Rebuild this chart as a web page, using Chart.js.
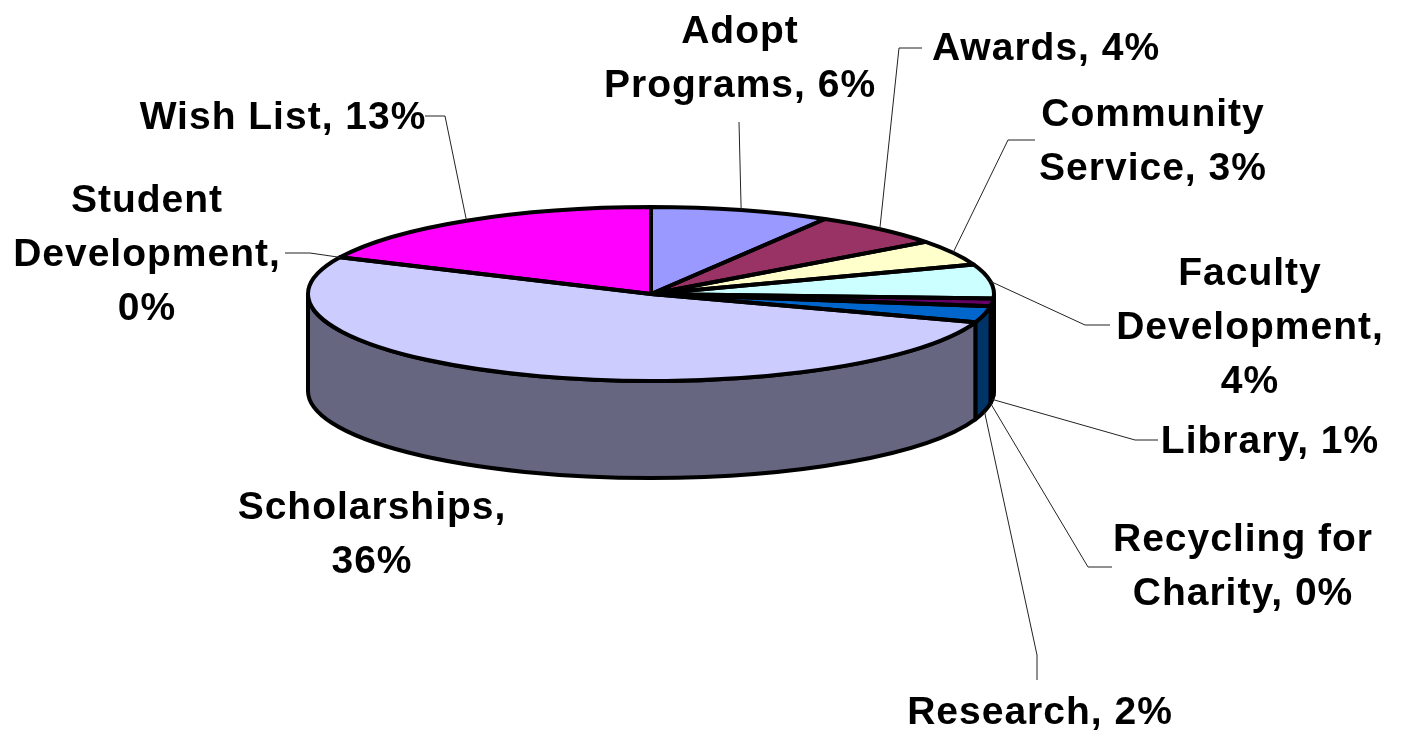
<!DOCTYPE html>
<html>
<head>
<meta charset="utf-8">
<style>
  html, body { margin: 0; background: #fff; }
  canvas { display: block; }
</style>
<script src="https://cdn.jsdelivr.net/npm/chart.js@4/dist/chart.umd.min.js"></script>
</head>
<body>
<canvas id="chart1" width="1404" height="733"></canvas>
<script>
// chart data (slices are not forced to add up to 100)
var categories = ['Adopt Programs', 'Awards', 'Community Service', 'Faculty Development', 'Library',
  'Recycling for Charity', 'Research', 'Scholarships', 'Student Development', 'Wish List'];
var values = [5.9, 4.4, 3.3, 4.4, 1.0, 0, 2.1, 36, 0, 12.6];
var topColors = ['#9999FF', '#993366', '#FFFFCC', '#CCFFFF', '#660066',
  '#FF8080', '#0066CC', '#CCCCFF', '#000080', '#FF00FF'];
var sideColors = ['#4D4D80', '#4D1A33', '#808066', '#668080', '#330033',
  '#804040', '#003366', '#666680', '#000040', '#800080'];
var labelLines = [['Adopt', 'Programs, 6%'], ['Awards, 4%'], ['Community', 'Service, 3%'],
  ['Faculty', 'Development,', '4%'], ['Library, 1%'], ['Recycling for', 'Charity, 0%'],
  ['Research, 2%'], ['Scholarships,', '36%'], ['Student', 'Development,', '0%'], ['Wish List, 13%']];

// label layout: centre of first text line, then leader line elbow and end
var labelPos = [[740, 32], [1046, 49], [1153, 115], [1250, 274], [1270, 442],
  [1243, 540], [1040, 713], [372, 508], [147, 201], [283, 118]];
var leaderPts = [
  [[739, 122]],
  [[899, 48], [922, 48]],
  [[1008, 140], [1035, 140]],
  [[1085, 325], [1110, 325]],
  [[1135, 440], [1158, 440]],
  [[1088, 567], [1112, 567]],
  [[1037, 655], [1037, 680]],
  null,
  [[310, 253], [285, 253]],
  [[445, 116], [425, 116]]
];

var centerY = 294; // flattened pie centre on the page
var radiusY = 87;
var depth = 97;
var lineSize = 54;

function rim(arc) {
  return { x: arc.x, y: centerY, rx: arc.outerRadius, ry: radiusY };
}

// walls of the slices facing the viewer, drawn behind the top face
function drawSides(ctx, meta) {
  meta.data.forEach(function (arc, i) {
    var a = Math.max(arc.startAngle, 0);
    var b = Math.min(arc.endAngle, Math.PI);
    if (values[i] === 0 || b <= a) return;
    var r = rim(arc);
    ctx.beginPath();
    ctx.ellipse(r.x, r.y, r.rx, r.ry, 0, a, b);
    ctx.lineTo(r.x + r.rx * Math.cos(b), r.y + r.ry * Math.sin(b) + depth);
    ctx.ellipse(r.x, r.y + depth, r.rx, r.ry, 0, b, a, true);
    ctx.closePath();
    ctx.fillStyle = sideColors[i];
    ctx.fill();
    ctx.stroke();
  });
}

// outlines are stroked after the flattening so the pen width stays even
function drawOutlines(ctx, meta) {
  meta.data.forEach(function (arc, i) {
    if (values[i] === 0) return;
    var r = rim(arc);
    ctx.beginPath();
    ctx.moveTo(r.x, r.y);
    ctx.ellipse(r.x, r.y, r.rx, r.ry, 0, arc.startAngle, arc.endAngle);
    ctx.closePath();
    ctx.stroke();
  });
}

function drawLabels(ctx, meta) {
  ctx.fillStyle = '#000';
  ctx.font = 'bold 39px "Liberation Sans", Arial, sans-serif';
  ctx.letterSpacing = '1px';
  ctx.textAlign = 'center';
  ctx.textBaseline = 'middle';
  meta.data.forEach(function (arc, i) {
    labelLines[i].forEach(function (line, n) {
      ctx.fillText(line, labelPos[i][0], labelPos[i][1] + n * lineSize);
    });
    if (!leaderPts[i]) return;
    // leader starts on the rim at the middle of the slice
    var mid = (arc.startAngle + arc.endAngle) / 2;
    var r = rim(arc);
    var y = r.y + r.ry * Math.sin(mid);
    if (Math.sin(mid) > 0) y += depth; // front slices: bottom of the wall
    ctx.beginPath();
    ctx.moveTo(r.x + r.rx * Math.cos(mid), y);
    leaderPts[i].forEach(function (p) { ctx.lineTo(p[0], p[1]); });
    ctx.lineWidth = 1;
    ctx.strokeStyle = '#222';
    ctx.stroke();
  });
}

var pie3d = {
  id: 'pie3d',
  beforeDatasetDraw: function (chart, args) {
    var ctx = chart.ctx;
    var arc = args.meta.data[0];
    ctx.save();
    ctx.lineWidth = 4;
    ctx.lineJoin = 'round';
    ctx.strokeStyle = '#000';
    drawSides(ctx, args.meta);
    ctx.restore();
    // squash the circle the library draws into the tilted top face
    ctx.save();
    ctx.translate(arc.x, centerY);
    ctx.scale(1, radiusY / arc.outerRadius);
    ctx.translate(-arc.x, -arc.y);
  },
  afterDatasetDraw: function (chart, args) {
    var ctx = chart.ctx;
    ctx.restore();
    ctx.save();
    ctx.lineWidth = 4;
    ctx.lineJoin = 'round';
    ctx.strokeStyle = '#000';
    drawOutlines(ctx, args.meta);
    drawLabels(ctx, args.meta);
    ctx.restore();
  }
};

new Chart(document.getElementById('chart1'), {
  type: 'pie',
  data: {
    labels: categories,
    datasets: [{ data: values, backgroundColor: topColors, borderWidth: 0 }]
  },
  options: {
    responsive: false,
    animation: false,
    layout: { padding: { left: 308, right: 410, top: 0, bottom: 0 } },
    plugins: { legend: { display: false }, tooltip: { enabled: false } }
  },
  plugins: [pie3d]
});
</script>
</body>
</html>
